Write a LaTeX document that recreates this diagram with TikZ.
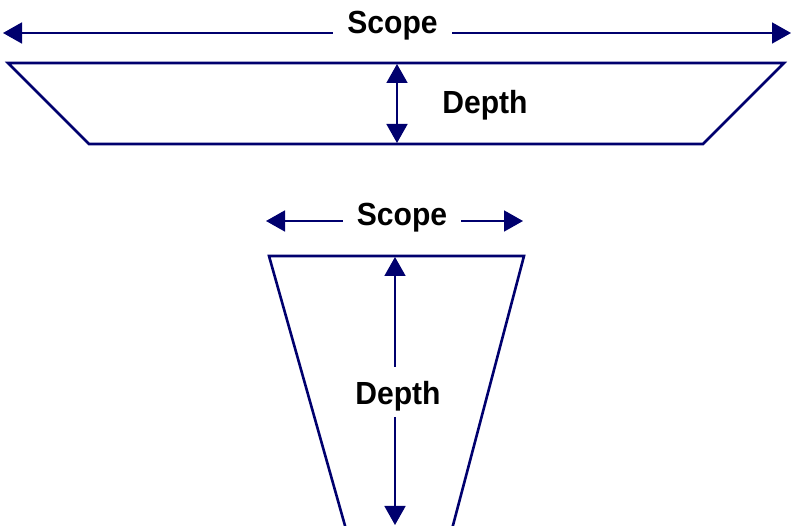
\documentclass[tikz,border=0pt]{standalone}
\usepackage{fontspec}
\setmainfont{Liberation Sans}
\newfontfamily\lblfont[FakeStretch=0.94]{Liberation Sans Bold}
\usetikzlibrary{arrows.meta}
\definecolor{navy}{RGB}{0,0,110}
\tikzset{
  shapeline/.style={draw=navy, line width=2.6pt, line join=miter},
  dimline/.style={draw=navy, line width=1.8pt, -{Triangle[length=19pt,width=21pt]}},
  dimboth/.style={draw=navy, line width=1.8pt, {Triangle[length=19pt,width=21pt]}-{Triangle[length=19pt,width=21pt]}},
  lbl/.style={font=\lblfont\fontsize{32}{38}\selectfont, text=black, inner ysep=0pt, anchor=base}
}
\begin{document}
\begin{tikzpicture}[x=1pt, y=-1pt]
\useasboundingbox (0,0) rectangle (796,526);
\clip (0,0) rectangle (796,526);
% ---- top (wide, shallow) ----
\coordinate (sL1) at (3,33);
\coordinate (sR1) at (791,33);
\node[lbl, inner xsep=14.4pt] (s1) at (392.5,34) {Scope};
\draw[dimline] (s1.west |- sL1) -- (sL1);
\draw[dimline] (s1.east |- sR1) -- (sR1);
\coordinate (t1a) at (8,63);
\coordinate (t1b) at (784,63);
\coordinate (t1c) at (703,144);
\coordinate (t1d) at (89,144);
\draw[shapeline] (t1a) -- (t1b) -- (t1c) -- (t1d) -- cycle;
\coordinate (d1t) at (397,64);
\coordinate (d1b) at (397,143);
\draw[dimboth] (d1t) -- (d1b);
\node[lbl, inner xsep=0pt] (d1) at (485,113.5) {Depth};
% ---- bottom (narrow, deep) ----
\coordinate (sL2) at (266,221);
\coordinate (sR2) at (523,221);
\node[lbl, inner xsep=13.9pt] (s2) at (402,226) {Scope};
\draw[dimline] (s2.west |- sL2) -- (sL2);
\draw[dimline] (s2.east |- sR2) -- (sR2);
\coordinate (t2a) at (269,256);
\coordinate (t2b) at (524,256);
\coordinate (t2c) at (451.5,531);
\coordinate (t2d) at (346.5,531);
\draw[shapeline] (t2d) -- (t2a) -- (t2b) -- (t2c);
\node[lbl, inner xsep=0pt] (d2) at (398,405) {Depth};
\coordinate (d2t) at (395,257);
\coordinate (d2b) at (395,525);
\draw[dimline] ([yshift=15pt]d2.north -| d2t) -- (d2t);
\draw[dimline] ([yshift=-5pt]d2.south -| d2b) -- (d2b);
\end{tikzpicture}
\end{document}
